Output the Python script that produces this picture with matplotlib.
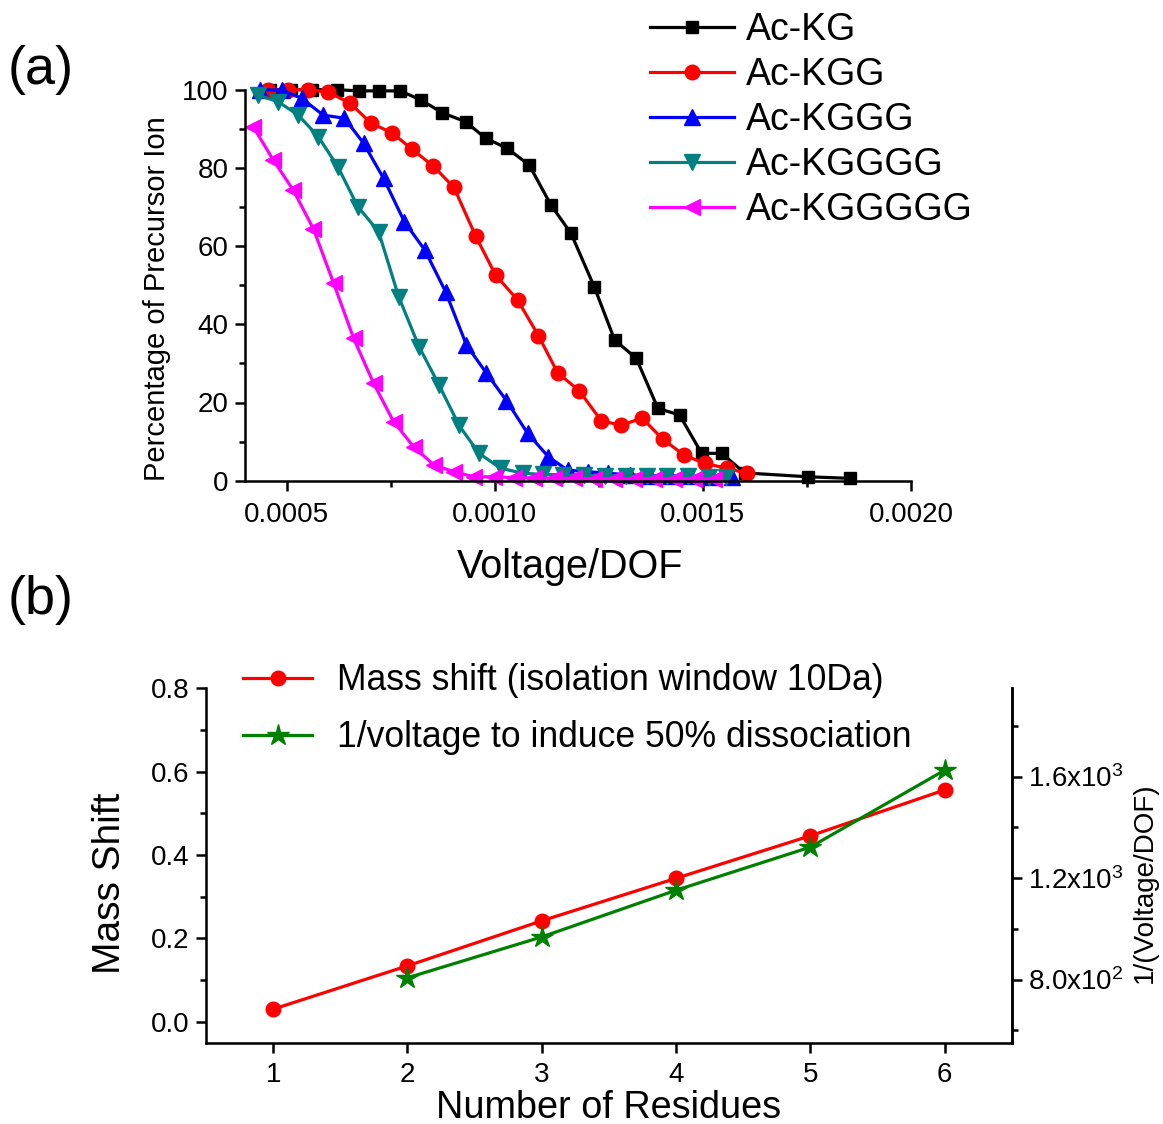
import matplotlib
matplotlib.use("Agg")
import matplotlib.pyplot as plt
from matplotlib.lines import Line2D
from matplotlib.ticker import MultipleLocator, FixedLocator, FixedFormatter

plt.rcParams['font.family'] = ['Liberation Sans', 'DejaVu Sans']
plt.rcParams['mathtext.fontset'] = 'custom'
plt.rcParams['mathtext.rm'] = 'Liberation Sans'

# (a) percentage of precursor ion vs voltage/DOF
kg_x = [0.00046, 0.00051, 0.00056, 0.00062, 0.000673, 0.000721, 0.000773, 0.000822,
        0.000874, 0.000930, 0.000978, 0.00103, 0.001083, 0.001135, 0.001183, 0.001239,
        0.001288, 0.00134, 0.001392, 0.001444, 0.001497, 0.001545, 0.0016, 0.001753, 0.001854]
kg_y = [100, 100, 100, 100, 99.7, 99.7, 99.7, 97.4, 94.1, 91.8, 87.6, 85.0, 80.7, 70.5,
        63.3, 49.6, 36.0, 31.3, 18.5, 16.8, 7.0, 7.0, 2.0, 1.0, 0.6]

kgg_x = [0.000456, 0.000504, 0.000552, 0.0006, 0.000653, 0.000703, 0.000753, 0.000801,
         0.000852, 0.000902, 0.000954, 0.001002, 0.001055, 0.001105, 0.001151, 0.001203,
         0.001256, 0.001304, 0.001354, 0.001404, 0.001454, 0.001505, 0.001557, 0.001605]
kgg_y = [100, 100, 100, 99.4, 96.5, 91.4, 89.0, 84.8, 80.5, 75.0, 62.6, 52.6, 46.2, 37.1,
         27.6, 23.0, 15.3, 14.2, 16.0, 10.6, 6.6, 4.4, 3.2, 1.9]

kggg_x = [0.000436, 0.000488, 0.000536, 0.000588, 0.000639, 0.000685, 0.000733, 0.000783,
          0.000832, 0.000882, 0.000932, 0.00098, 0.001028, 0.001079, 0.001129, 0.001175,
          0.001223, 0.001272, 0.001324, 0.001372, 0.00142, 0.00147, 0.00152, 0.001569]
kggg_y = [100, 99.9, 97.8, 93.5, 92.7, 86.3, 77.3, 66.2, 59.0, 48.3, 34.7, 27.5, 20.5,
          12.1, 6.1, 2.7, 2.3, 1.9, 1.5, 1.3, 1.2, 1.1, 1.0, 1.0]

kgggg_x = [0.000432, 0.00048, 0.000528, 0.000576, 0.000623, 0.000671, 0.000721, 0.000769,
           0.000818, 0.000866, 0.000914, 0.000962, 0.001014, 0.001067, 0.001115, 0.001165,
           0.001215, 0.001265, 0.001315, 0.001365, 0.001415, 0.001465, 0.001515, 0.001555]
kgggg_y = [98.6, 96.9, 93.5, 88.0, 80.3, 70.1, 63.7, 47.1, 34.3, 24.5, 14.2, 7.0, 3.2,
           1.9, 1.6, 1.5, 1.4, 1.3, 1.2, 1.2, 1.1, 1.1, 1.0, 1.0]

kggggg_x = [0.00042, 0.000468, 0.000516, 0.000564, 0.000613, 0.000661, 0.000709, 0.000757,
            0.000805, 0.000854, 0.000902, 0.00095, 0.000998, 0.001046, 0.001094, 0.001142,
            0.00119, 0.001238, 0.001286, 0.001334, 0.001382, 0.00143, 0.001478, 0.001526]
kggggg_y = [90.5, 82.0, 74.3, 64.5, 50.5, 36.4, 24.9, 15.1, 8.7, 4.0, 2.3, 1.0, 1.0, 0.8,
            0.7, 0.6, 0.6, 0.5, 0.5, 0.5, 0.5, 0.5, 0.5, 0.5]

series_names = ["Ac-KG", "Ac-KGG", "Ac-KGGG", "Ac-KGGGG", "Ac-KGGGGG"]

# (b) mass shift and 1/voltage vs residues
residues = [1, 2, 3, 4, 5, 6]
mass_shift = [0.030, 0.134, 0.242, 0.344, 0.446, 0.556]
residues_inv = [2, 3, 4, 5, 6]
inv_voltage = [807, 968, 1152, 1322, 1625]

W, H = 1163, 1124
fig = plt.figure(figsize=(W / 100, H / 100), dpi=100)

lw = 2.3
spw = 1.8
tick_fs = 20

# ---- panel (a)
ax1 = fig.add_axes([245 / W, 1 - 480.7 / H, (911 - 245) / W, (480.7 - 89.7) / H])
ax1.plot(kg_x, kg_y, color='black', marker='s', ms=9, lw=lw, clip_on=False, label=series_names[0])
ax1.plot(kgg_x, kgg_y, color='red', marker='o', ms=10.5, lw=lw, clip_on=False, label=series_names[1])
ax1.plot(kggg_x, kggg_y, color='blue', marker='^', ms=11, lw=lw, clip_on=False, label=series_names[2])
ax1.plot(kgggg_x, kgggg_y, color='#008080', marker='v', ms=11, lw=lw, clip_on=False, label=series_names[3])
ax1.plot(kggggg_x, kggggg_y, color='magenta', marker='<', ms=11, lw=lw, clip_on=False, label=series_names[4])

ax1.set_xlim(0.0004, 0.0020)
ax1.set_ylim(0, 100)
ax1.set_xticks([0.0005, 0.0010, 0.0015, 0.0020])
ax1.set_xticklabels(["0.0005", "0.0010", "0.0015", "0.0020"])
ax1.xaxis.set_minor_locator(FixedLocator([0.00075, 0.00125, 0.00175]))
ax1.yaxis.set_major_locator(MultipleLocator(20))
ax1.yaxis.set_minor_locator(MultipleLocator(10))
for s in ['top', 'right']:
    ax1.spines[s].set_visible(False)
for s in ['left', 'bottom']:
    ax1.spines[s].set_linewidth(spw)
ax1.tick_params(which='major', length=7, width=spw, labelsize=tick_fs, pad=5)
ax1.tick_params(which='minor', length=4.5, width=spw)
ax1.tick_params(axis='x', which='major', pad=8)
ax1.set_xlabel("Voltage/DOF", fontsize=28.5, labelpad=15)
ax1.xaxis.label.set_x(0.488)
ax1.set_ylabel("Percentage of Precursor Ion", fontsize=21, labelpad=8)
ax1.yaxis.label.set_y(0.465)

ax1.legend(loc='upper left', bbox_to_anchor=(650 / W, 1 - 12 / H), bbox_transform=fig.transFigure,
           frameon=False, fontsize=27, handlelength=2.25, handletextpad=0.3,
           labelspacing=0.24, borderpad=0, borderaxespad=0)

# ---- panel (b)
ax2 = fig.add_axes([206 / W, 1 - 1042.5 / H, (1011.7 - 206) / W, (1042.5 - 688.3) / H])
ax2.plot(residues, mass_shift, color='red', marker='o', ms=10.5, lw=lw)
ax2.set_xlim(0.5, 6.5)
ax2.set_ylim(-0.05, 0.8)
ax2.set_xticks(residues)
ax2.yaxis.set_major_locator(FixedLocator([0.0, 0.2, 0.4, 0.6, 0.8]))
ax2.yaxis.set_major_formatter(FixedFormatter(["0.0", "0.2", "0.4", "0.6", "0.8"]))
ax2.yaxis.set_minor_locator(FixedLocator([0.1, 0.3, 0.5, 0.7]))
ax2.spines['top'].set_visible(False)
for s in ['left', 'bottom', 'right']:
    ax2.spines[s].set_linewidth(spw)
ax2.tick_params(which='major', length=7, width=spw, labelsize=tick_fs, pad=5)
ax2.tick_params(which='minor', length=4.5, width=spw)
ax2.tick_params(axis='x', which='major', pad=7)
ax2.set_xlabel("Number of Residues", fontsize=27.3, labelpad=1.5)
ax2.set_ylabel("Mass Shift", fontsize=28, labelpad=16)
ax2.yaxis.label.set_y(0.45)

ax3 = ax2.twinx()
ax3.plot(residues_inv, inv_voltage, color='green', marker='*', ms=16, lw=lw)
ax3.set_ylim(552, 1948)
ax3.yaxis.set_major_locator(FixedLocator([800, 1200, 1600]))
ax3.yaxis.set_major_formatter(FixedFormatter([r"$\mathregular{8.0x10^2}$",
                                              r"$\mathregular{1.2x10^3}$",
                                              r"$\mathregular{1.6x10^3}$"]))
ax3.yaxis.set_minor_locator(FixedLocator([600, 1000, 1400, 1800]))
ax3.spines['top'].set_visible(False)
ax3.spines['right'].set_linewidth(spw)
ax3.tick_params(which='major', length=7, width=spw, labelsize=tick_fs, pad=5)
ax3.tick_params(which='minor', length=4.5, width=spw)
ax3.set_ylabel("1/(Voltage/DOF)", fontsize=20, labelpad=6)
ax3.yaxis.label.set_y(0.45)

handles = [Line2D([], [], color='red', marker='o', ms=10.5, lw=lw),
           Line2D([], [], color='green', marker='*', ms=16, lw=lw)]
ax2.legend(handles, ["Mass shift (isolation window 10Da)", "1/voltage to induce 50% dissociation"],
           loc='upper left', bbox_to_anchor=(243 / W, 1 - 663 / H), bbox_transform=fig.transFigure,
           frameon=False, fontsize=25.6, handlelength=1.95, handletextpad=0.68,
           labelspacing=0.62, borderpad=0, borderaxespad=0)

fig.text(8 / W, 1 - 70 / H, "(a)", fontsize=39, va='center', ha='left')
fig.text(8 / W, 1 - 600 / H, "(b)", fontsize=39, va='center', ha='left')

fig.savefig("out.png", dpi=100)
